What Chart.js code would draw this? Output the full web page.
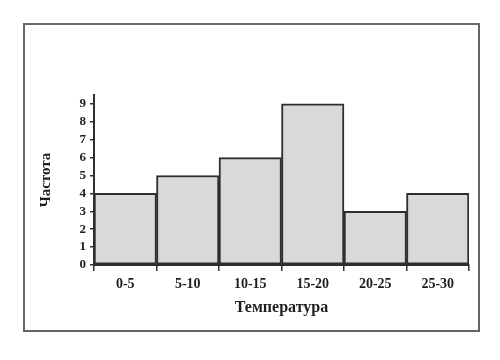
<!DOCTYPE html>
<html>
<head>
<meta charset="utf-8">
<script src="https://cdn.jsdelivr.net/npm/chart.js@4/dist/chart.umd.min.js"></script>
<style>
    body { margin: 0; background: #fff; }
    #wrap { position: relative; width: 500px; height: 360px; }
    #frame {
        position: absolute; left: 23px; top: 23px; width: 457px; height: 309px;
        box-sizing: border-box; border: 2px solid #666; pointer-events: none;
    }
</style>
</head>
<body>
<div id="wrap">
    <canvas id="chart" width="500" height="360"></canvas>
    <div id="frame"></div>
</div>
<script>
// histogram data
const categories = ['0-5', '5-10', '10-15', '15-20', '20-25', '25-30'];
const frequencies = [4, 5, 6, 9, 3, 4];
const yMax = 9.5;

const serif = "'Liberation Serif', 'Times New Roman', serif";
const ink = '#1e1e1e';

document.addEventListener('DOMContentLoaded', () => {
    const ctx = document.getElementById('chart').getContext('2d');

    new Chart(ctx, {
        type: 'bar',
        data: {
            labels: categories,
            datasets: [{
                label: 'Частота',
                data: frequencies,
                backgroundColor: '#d9d9d9',
                borderColor: '#2e2e2e',
                borderWidth: 2,
                borderSkipped: false,
                barPercentage: 1,
                categoryPercentage: 1
            }]
        },
        options: {
            responsive: false,
            animation: false,
            layout: { padding: { left: 33, right: 31, top: 95, bottom: 39 } },
            plugins: {
                legend: { display: false },
                tooltip: { enabled: false }
            },
            scales: {
                x: {
                    afterFit: s => { s.height = 56; },
                    grid: { drawOnChartArea: false, drawTicks: true, tickLength: 6, color: '#333', lineWidth: 1.5 },
                    border: { color: '#2e2e2e', width: 2 },
                    ticks: { color: ink, padding: 5, maxRotation: 0, font: { family: serif, size: 14, weight: 'bold' } },
                    title: {
                        display: true,
                        text: 'Температура',
                        color: ink,
                        font: { family: serif, size: 16, weight: 'bold' }
                    }
                },
                y: {
                    min: 0,
                    max: yMax,
                    afterFit: s => { s.width = 61; },
                    grid: { drawOnChartArea: false, drawTicks: true, tickLength: 4, color: '#333', lineWidth: 1.5 },
                    border: { color: '#2e2e2e', width: 2 },
                    ticks: {
                        stepSize: 1,
                        includeBounds: false,
                        color: ink,
                        padding: 4,
                        font: { family: serif, size: 13, weight: 'bold' }
                    },
                    title: {
                        display: true,
                        text: 'Частота',
                        color: ink,
                        font: { family: serif, size: 15, weight: 'bold' }
                    }
                }
            }
        }
    });
});
</script>
</body>
</html>
